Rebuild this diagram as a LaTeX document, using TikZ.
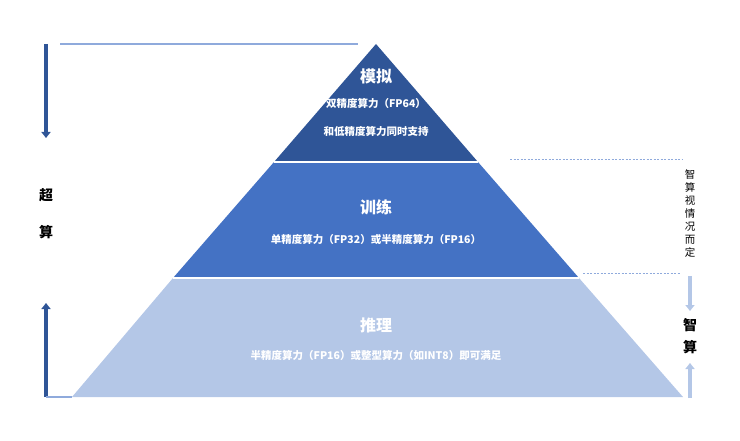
\documentclass[tikz,border=0pt]{standalone}
\usepackage{fontspec}
\setmainfont{Noto Sans CJK SC}
\usetikzlibrary{positioning,arrows.meta}
\definecolor{tierA}{HTML}{2F5597}
\definecolor{tierB}{HTML}{4472C4}
\definecolor{tierC}{HTML}{B4C7E7}
\definecolor{guide}{HTML}{8FAADC}

\begin{document}
\begin{tikzpicture}[x=1pt,y=-1pt,
    title/.style = {text=white, font=\fontsize{16}{16}\selectfont\bfseries},
     desc/.style = {text=white, font=\fontsize{10.5}{12}\selectfont\bfseries},
     side/.style = {font=\fontsize{14}{14}\selectfont\bfseries},
  darkarr/.style = {draw=tierA, line width=3.5pt, -{Triangle[length=6pt,width=9pt]}},
 lightarr/.style = {draw=tierC, line width=3.5pt, -{Triangle[length=6pt,width=9pt]}},
   dotted/.style = {draw=guide, line width=0.8pt, dash pattern=on 2pt off 1.5pt}
                    ]
\useasboundingbox (0,0) rectangle (740,441);
% the tiers
\coordinate (apex) at (376,44);
\coordinate (l1) at (274,162); \coordinate (r1) at (478,162);
\coordinate (l2) at (173,278); \coordinate (r2) at (579,278);
\coordinate (l3) at (72,397);  \coordinate (r3) at (683,397);
\fill[tierC] (l2) -- (r2) -- (r3) -- (l3) -- cycle;
\fill[tierB] (l1) -- (r1) -- (r2) -- (l2) -- cycle;
\fill[tierA] (apex) -- (r1) -- (l1) -- cycle;
\draw[white, line width=1.5pt] (l1) -- (r1) (l2) -- (r2);
% the texts inside
\node (simT) [title] at (376,76)  {模拟};
\node (simD) [desc]  at (376,104) {双精度算力（FP64）};
\node (simE) [desc]  at (376,131) {和低精度算力同时支持};
\node (trnT) [title] at (376,207) {训练};
\node (trnD) [desc]  at (376,240) {单精度算力（FP32）或半精度算力（FP16）};
\node (infT) [title] at (376,325) {推理};
\node (infD) [desc]  at (376,356) {半精度算力（FP16）或整型算力（如INT8）即可满足};
% the left side
\coordinate (topL) at (60,44);
\coordinate (topR) at (358,44);
\draw[guide, line width=1.2pt] (topL) -- (topR);
\coordinate (ld1) at (46,44);  \coordinate (ld2) at (46,138);
\coordinate (lu1) at (46,397); \coordinate (lu2) at (46,303);
\draw[darkarr] (ld1) -- (ld2);
\draw[darkarr] (lu1) -- (lu2);
\draw[guide, line width=1.2pt] (lu1) -- (l3);
\node (sup1) [side] at (46,195) {超};
\node (sup2) [side] at (46,232) {算};
% the right side
\coordinate (d1a) at (510,159); \coordinate (d1b) at (683,159);
\coordinate (d2a) at (583,273); \coordinate (d2b) at (680,273);
\draw[dotted] (d1a) -- (d1b);
\draw[dotted] (d2a) -- (d2b);
\node (note) [font=\fontsize{10.5}{13}\selectfont, align=center] at (690,214)
        {智\\算\\视\\情\\况\\而\\定};
\coordinate (rd1) at (690,276); \coordinate (rd2) at (690,311);
\coordinate (ru1) at (690,398); \coordinate (ru2) at (690,363);
\draw[lightarr] (rd1) -- (rd2);
\draw[lightarr] (ru1) -- (ru2);
\node (ai1) [side] at (690,325) {智};
\node (ai2) [side] at (690,347) {算};
\end{tikzpicture}
\end{document}
